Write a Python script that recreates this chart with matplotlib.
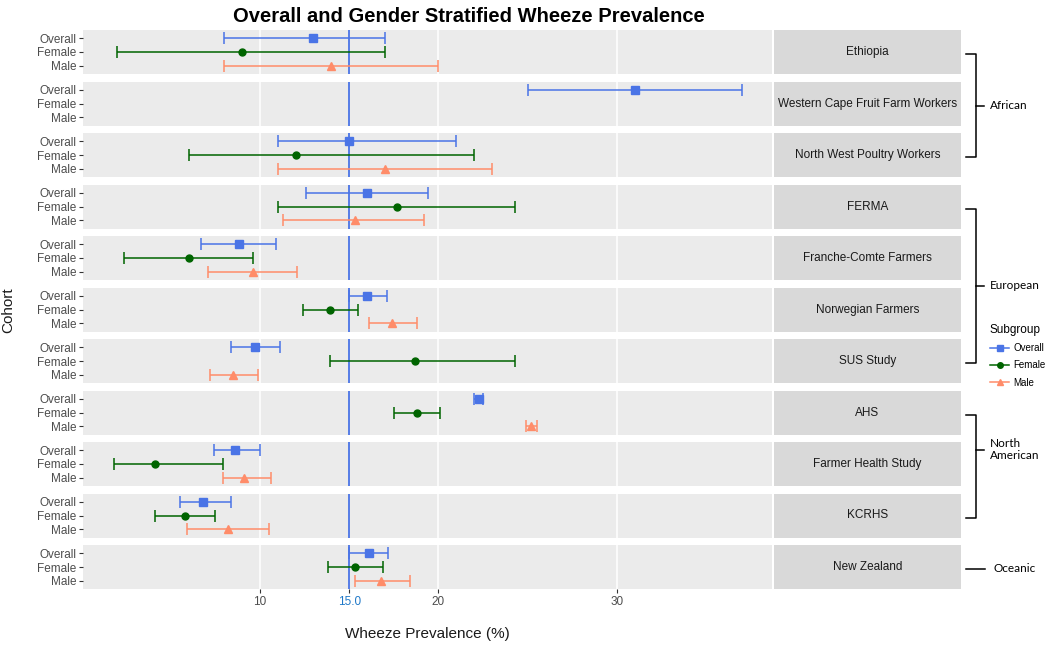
import numpy as np
import matplotlib
matplotlib.use("Agg")
import matplotlib.pyplot as plt
from matplotlib.lines import Line2D

plt.rcParams['font.family'] = ['Liberation Sans', 'DejaVu Sans']

# data
cohorts = ["Ethiopia", "Western Cape Fruit Farm Workers", "North West Poultry Workers",
           "FERMA", "Franche-Comte Farmers", "Norwegian Farmers", "SUS Study",
           "AHS", "Farmer Health Study", "KCRHS", "New Zealand"]
nan = np.nan
overall_est = [13.0, 31.0, 15.0, 16.0, 8.8, 16.0, 9.7, 22.3, 8.6, 6.8, 16.1]
overall_lo = [8.0, 25.0, 11.0, 12.6, 6.7, 15.0, 8.4, 22.0, 7.4, 5.5, 15.0]
overall_hi = [17.0, 37.0, 21.0, 19.4, 10.9, 17.1, 11.1, 22.5, 10.0, 8.4, 17.2]
female_est = [9.0, nan, 12.0, 17.7, 6.0, 13.9, 18.7, 18.8, 4.1, 5.8, 15.3]
female_lo = [2.0, nan, 6.0, 11.0, 2.4, 12.4, 13.9, 17.5, 1.8, 4.1, 13.8]
female_hi = [17.0, nan, 22.0, 24.3, 9.6, 15.5, 24.3, 20.1, 7.9, 7.5, 16.9]
male_est = [14.0, nan, 17.0, 15.3, 9.6, 17.4, 8.5, 25.2, 9.1, 8.2, 16.8]
male_lo = [8.0, nan, 11.0, 11.3, 7.1, 16.1, 7.2, 24.9, 7.9, 5.9, 15.3]
male_hi = [20.0, nan, 23.0, 19.2, 12.1, 18.8, 9.9, 25.5, 10.6, 10.5, 18.4]

subgroups = ["Overall", "Female", "Male"]
colors = ["#4A74E6", "#006400", "#FF8C69"]
markers = ["s", "o", "^"]
ref_value = 15.0
x_ticks = [10, 15, 20, 30]
x_ticklabels = ["10", "15.0", "20", "30"]

regions = ["African", "European", "North\nAmerican", "Oceanic"]
region_first = [0, 3, 7, 10]
region_last = [2, 6, 9, 10]
region_mid = [0.5, 0.5, 0.34, 0.5]

series = [(overall_est, overall_lo, overall_hi),
          (female_est, female_lo, female_hi),
          (male_est, male_lo, male_hi)]

W, H = 1050, 647
fig = plt.figure(figsize=(W / 100, H / 100), dpi=100)

p_left, p_right, s_right = 83, 772, 961
top0, ph, pitch = 30, 44, 51.5
xlim = (0.08, 38.7)

centers = []
for i, name in enumerate(cohorts):
    top = top0 + i * pitch
    centers.append(top + ph / 2)
    ax = fig.add_axes([p_left / W, 1 - (top + ph) / H, (p_right - p_left) / W, ph / H])
    ax.set_facecolor("#EBEBEB")
    for s in ax.spines.values():
        s.set_visible(False)
    ax.set_xlim(*xlim)
    ax.set_ylim(3.6, 0.4)
    for g in [10, 20, 30]:
        ax.axvline(g, color="white", lw=1.1, zorder=0)
    ax.axvline(ref_value, color="#4A74E6", lw=1.3, zorder=1)
    for k, (est, lo, hi) in enumerate(series):
        if np.isnan(est[i]):
            continue
        ax.errorbar([est[i]], [k + 1],
                    xerr=[[est[i] - lo[i]], [hi[i] - est[i]]],
                    fmt=markers[k], color=colors[k], ms=5.5 if k != 1 else 5,
                    elinewidth=1.1, capsize=4.3, capthick=1.1, zorder=3)
    ax.set_yticks([1, 2, 3])
    ax.set_yticklabels(subgroups)
    ax.tick_params(axis="y", length=3, width=0.8, color="#333333", labelsize=8.5,
                   labelcolor="#4D4D4D", pad=2)
    if i == len(cohorts) - 1:
        ax.set_xticks(x_ticks)
        ax.set_xticklabels(x_ticklabels)
        ax.tick_params(axis="x", length=3, width=0.8, color="#333333", labelsize=8.5,
                       labelcolor="#4D4D4D", pad=2)
        ax.get_xticklabels()[1].set_color("#1F78C8")
        ax.set_xlabel("Wheeze Prevalence (%)", fontsize=11, color="#1A1A1A", labelpad=14)
    else:
        ax.set_xticks([])

    # strip on right
    sx = fig.add_axes([(p_right + 2) / W, 1 - (top + ph) / H, (s_right - p_right - 2) / W, ph / H])
    sx.set_facecolor("#D9D9D9")
    sx.set_xticks([])
    sx.set_yticks([])
    for s in sx.spines.values():
        s.set_visible(False)
    sx.text(0.5, 0.5, name, ha="center", va="center", fontsize=8.5, color="#1A1A1A",
            transform=sx.transAxes)

fig.text(469 / W, 1 - 16 / H, "Overall and Gender Stratified Wheeze Prevalence",
         ha="center", va="center", fontsize=14.5, fontweight="bold")
fig.text(8 / W, 1 - 310 / H, "Cohort", rotation=90, ha="center", va="center",
         fontsize=11, color="#1A1A1A")

# region brackets (pixel overlay)
ov = fig.add_axes([0, 0, 1, 1], facecolor="none")
ov.set_xlim(0, W)
ov.set_ylim(H, 0)
ov.axis("off")
bx = 976
for r, lab in enumerate(regions):
    y0 = centers[region_first[r]] + 2
    y1 = centers[region_last[r]] + 2
    if region_first[r] == region_last[r]:
        ov.plot([966, 985], [y0, y0], color="black", lw=1.1)
        ov.text(993, y0, lab, ha="left", va="center", fontsize=8.5, family="Lato")
        continue
    ym = y0 + region_mid[r] * (y1 - y0)
    ov.plot([966, bx, bx, 966], [y0, y0, y1, y1], color="black", lw=1.1)
    ov.plot([bx, 984], [ym, ym], color="black", lw=1.1)
    ov.text(990, ym, lab, ha="left", va="center", fontsize=8.5, family="Lato",
            linespacing=1.2)

handles = [Line2D([], [], color=c, marker=m, ms=4, lw=1.1) for c, m in zip(colors, markers)]
leg = fig.legend(handles, subgroups, title="Subgroup", loc="upper left",
                 bbox_to_anchor=(986 / W, 1 - 320 / H), frameon=False,
                 fontsize=7, title_fontsize=8.5, handlelength=2.0, handletextpad=0.4,
                 labelspacing=0.75, borderaxespad=0)
leg._legend_box.align = "left"

fig.savefig("out.png", dpi=100)
